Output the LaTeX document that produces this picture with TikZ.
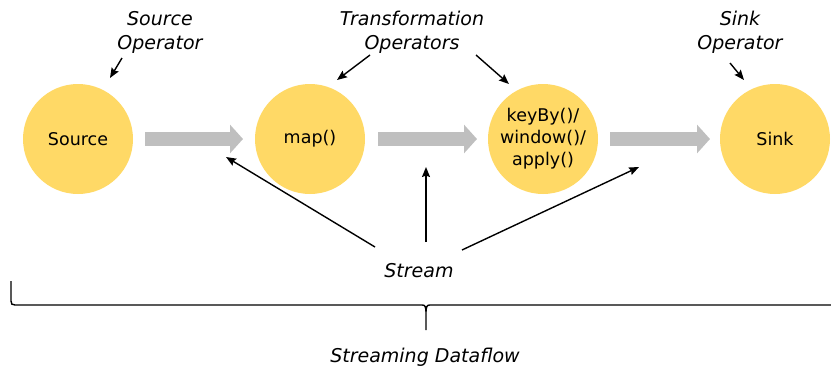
\documentclass[tikz,border=0pt]{standalone}
\usepackage{fontspec}
\setmainfont{DejaVu Sans}
\usetikzlibrary{arrows.meta}
\definecolor{opyellow}{HTML}{FFD966}
\definecolor{flowgray}{HTML}{BFBFBF}
\begin{document}
\begin{tikzpicture}[x=1pt,y=-1pt,
  op/.style={circle,fill=opyellow,minimum size=110pt,inner sep=0pt,align=center,
    font=\fontsize{17.5}{22}\selectfont},
  lbl/.style={align=center,font=\fontsize{19}{24}\selectfont\itshape,inner sep=0pt},
  flow/.style={draw=flowgray,line width=14pt,-{Triangle[length=13pt,width=28pt]}},
  ptr/.style={draw=black,line width=1.4pt,-{Stealth[length=10pt,width=8pt,inset=1.5pt]}}]
\useasboundingbox (0,0) rectangle (831,370);
\node[op] (src) at (78,139) {Source};
\node[op] (map) at (310,139) {map()};
\node[op] (key) at (543,139) {keyBy()/\\window()/\\apply()};
\node[op] (snk) at (775,139) {Sink};
\draw[flow] (145,139) -- (243,139);
\draw[flow] (378,139) -- (477,139);
\draw[flow] (610,139) -- (710,139);
\node[lbl] (lsrc) at (160,32) {Source\\Operator};
\node[lbl] (ltr) at (412,32) {Transformation\\Operators};
\node[lbl] (lsnk) at (740,32) {Sink\\Operator};
\node[lbl] (strm) at (419,271) {Stream};
\node[lbl] (sdf) at (425,357) {Streaming Dataflow};
\coordinate (a1s) at (122,58); \coordinate (a1e) at (110,78);
\coordinate (a2s) at (370,55); \coordinate (a2e) at (337,80);
\coordinate (a3s) at (476,55); \coordinate (a3e) at (509,84);
\coordinate (a4s) at (730,63); \coordinate (a4e) at (744,80);
\draw[ptr] (a1s) -- (a1e);
\draw[ptr] (a2s) -- (a2e);
\draw[ptr] (a3s) -- (a3e);
\draw[ptr] (a4s) -- (a4e);
\coordinate (s1s) at (375,247); \coordinate (s1e) at (226,157);
\coordinate (s2s) at (426,242); \coordinate (s2e) at (426,167);
\coordinate (s3s) at (462,250); \coordinate (s3e) at (639,167);
\draw[ptr] (s1s) -- (s1e);
\draw[ptr] (s2s) -- (s2e);
\draw[ptr] (s3s) -- (s3e);
\draw[line width=1.4pt] (11,281) -- (11,301) .. controls (11,304) and (12,305) .. (15,305)
  -- (422,305) .. controls (425,305) and (426,306) .. (426,314) -- (426,330)
  (426,314) .. controls (426,306) and (427,305) .. (430,305) -- (831,305);
\end{tikzpicture}
\end{document}
